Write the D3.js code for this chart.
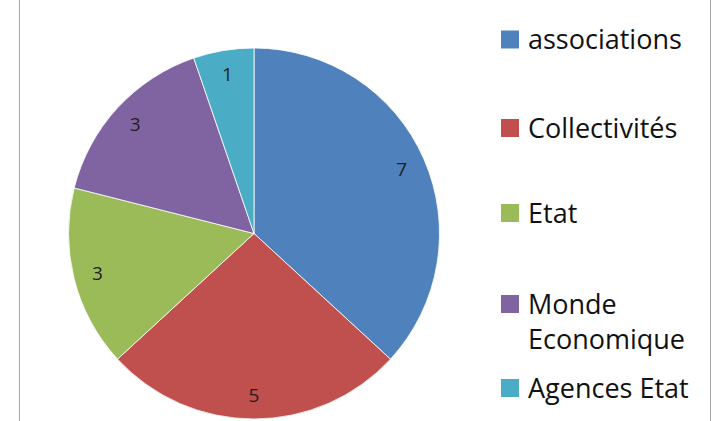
<!DOCTYPE html>
<html><head><meta charset="utf-8">
<script src="https://cdn.jsdelivr.net/npm/d3@7"></script>
<style>html,body{margin:0;padding:0;background:#fff;}svg{display:block;}</style>
</head><body>
<svg id="chart" width="713" height="421"></svg>
<script>
const categories = ["associations", "Collectivités", "Etat", "Monde Economique", "Agences Etat"];
const values = [7, 5, 3, 3, 1];
const colors = ["#4F81BD", "#C0504D", "#9BBB59", "#8064A2", "#4BACC6"];
const legendLines = [["associations"], ["Collectivités"], ["Etat"], ["Monde", "Economique"], ["Agences Etat"]];

const svg = d3.select("#chart");
const W = 713, H = 421;
const FONT = "'Open Sans', 'DejaVu Sans', sans-serif";
svg.append("rect").attr("width", W).attr("height", H).attr("fill", "#fff");
svg.append("line").attr("x1", 19.5).attr("x2", 19.5).attr("y1", 0).attr("y2", H).attr("stroke", "#a6a6a6").attr("stroke-width", 1);
svg.append("line").attr("x1", 710.5).attr("x2", 710.5).attr("y1", 0).attr("y2", H).attr("stroke", "#a6a6a6").attr("stroke-width", 1);

const cx = 254, cy = 233.5, R = 185.5;
const data = categories.map((c, i) => ({ name: c, value: values[i], color: colors[i] }));
const pie = d3.pie().value(d => d.value).sort(null);
const arcs = pie(data);
const arc = d3.arc().innerRadius(0).outerRadius(R);
const labelArc = d3.arc().innerRadius(R * 0.87).outerRadius(R * 0.87);

const g = svg.append("g").attr("transform", `translate(${cx},${cy})`);
g.selectAll("path").data(arcs).join("path")
  .attr("d", arc).attr("fill", d => d.data.color)
  .attr("stroke", "#fff").attr("stroke-width", 0.8);

g.selectAll("text.lbl").data(arcs).join("text").attr("class", "lbl")
  .attr("transform", d => `translate(${labelArc.centroid(d)})`)
  .attr("text-anchor", "middle").attr("dy", "0.36em")
  .attr("font-family", FONT).attr("font-size", 19)
  .attr("fill", "#1f1f1f")
  .text(d => d.data.value);

// measure to fit legend text width to reference (~158px for "associations")
const probe = svg.append("text").attr("font-family", FONT).attr("font-size", 20).text(legendLines[0][0]);
const w20 = probe.node().getComputedTextLength();
probe.remove();
const legendFont = w20 > 0 ? Math.min(27, 20 * 158 / w20) : 24;

const legendY = [39.5, 128, 213, 304, 388];
const lg = svg.append("g");
legendLines.forEach((lines, i) => {
  const y = legendY[i];
  lg.append("rect").attr("x", 501).attr("y", y - 9).attr("width", 18).attr("height", 18).attr("fill", colors[i]);
  lines.forEach((t, j) => {
    lg.append("text").attr("x", 528).attr("y", y + j * 35).attr("dy", "0.36em")
      .attr("font-family", FONT).attr("font-size", legendFont)
      .attr("fill", "#111").text(t);
  });
});
</script>
</body></html>
